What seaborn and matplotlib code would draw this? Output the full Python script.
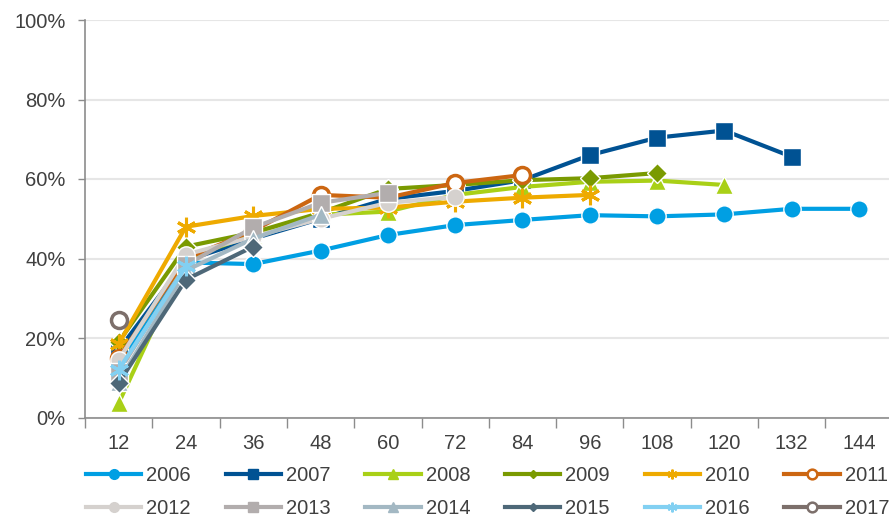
import pandas as pd
import seaborn as sns
import matplotlib.pyplot as plt
from matplotlib.lines import Line2D
from matplotlib.ticker import FixedLocator, FuncFormatter

# months since start (category axis)
months = [12, 24, 36, 48, 60, 72, 84, 96, 108, 120, 132, 144]
years = ['2006', '2007', '2008', '2009', '2010', '2011',
         '2012', '2013', '2014', '2015', '2016', '2017']

# values in percent, one list per year (shorter for later years)
v2006 = [13.5, 39.0, 38.6, 42.0, 45.9, 48.4, 49.7, 50.9, 50.6, 51.1, 52.5, 52.5]
v2007 = [17.0, 39.5, 45.0, 50.0, 55.0, 57.0, 59.7, 66.0, 70.4, 72.2, 65.6]
v2008 = [3.6, 40.0, 46.0, 51.0, 51.8, 56.0, 58.0, 59.3, 59.6, 58.5]
v2009 = [19.0, 43.0, 46.5, 51.5, 57.5, 58.5, 59.7, 60.2, 61.5]
v2010 = [18.5, 48.0, 50.7, 52.5, 52.8, 54.3, 55.3, 56.0]
v2011 = [15.0, 40.0, 47.0, 56.0, 55.3, 59.0, 61.0]
v2012 = [14.5, 41.0, 45.5, 50.0, 54.0, 55.5]
v2013 = [11.5, 38.4, 47.8, 54.0, 56.5]
v2014 = [9.0, 37.0, 45.0, 51.0]
v2015 = [8.7, 34.7, 43.0]
v2016 = [12.0, 38.0]
v2017 = [24.5]
values = [v2006, v2007, v2008, v2009, v2010, v2011,
          v2012, v2013, v2014, v2015, v2016, v2017]

colors = ['#009FE3', '#005293', '#A9D017', '#7A9A01', '#EEAA00', '#CC6611',
          '#D5D1CE', '#B2ADAD', '#A3B8C3', '#4E6878', '#82D0F2', '#7C6F6B']
asterisk = (6, 2, 0)
markers = ['o', 's', '^', 'D', asterisk, 'o', 'o', 's', '^', 'D', asterisk, 'o']
sizes = [12.5, 12.5, 12.5, 10.5, 14, 11.5, 12.5, 12.5, 12.5, 10.5, 14, 11.5]
open_marker = ['2011', '2017']

rows = []
for yr, vals in zip(years, values):
    for m, v in zip(months, vals):
        rows.append({'Månad': m, 'År': yr, 'Andel': v})
df = pd.DataFrame(rows)

plt.rcParams['font.family'] = ['Liberation Sans', 'DejaVu Sans']
text_col = '#404040'
axis_col = '#8C8C8C'
fs = 14.5

fig = plt.figure(figsize=(8.89, 5.19), dpi=100)
ax = fig.add_axes([85 / 889, (519 - 417.5) / 519, 804 / 889, 397.5 / 519])

for i, yr in enumerate(years):
    d = df[df['År'] == yr]
    if yr in open_marker:
        kw = dict(markerfacecolor='white', markeredgecolor=colors[i], markeredgewidth=2.5)
    elif markers[i] == asterisk:
        kw = dict(markeredgecolor=colors[i], markeredgewidth=2.2)
    else:
        kw = dict(markerfacecolor=colors[i], markeredgecolor='white', markeredgewidth=1)
    sns.lineplot(data=d, x='Månad', y='Andel', ax=ax, color=colors[i], linewidth=3,
                 marker=markers[i], markersize=sizes[i], legend=False, zorder=3 + i, **kw)

px_per_month = 67.3 / 12
ax.set_xlim(6, 6 + 804 / px_per_month)
ax.set_ylim(0, 100)
ax.set_xlabel('')
ax.set_ylabel('')

ax.set_xticks(months)
ax.set_xticklabels([str(m) for m in months])
ax.xaxis.set_minor_locator(FixedLocator([6 + 12 * k for k in range(13)]))
ax.tick_params(axis='x', which='major', length=0, pad=12, labelsize=fs, labelcolor=text_col)
ax.tick_params(axis='x', which='minor', length=7, width=1, color=axis_col)

ax.set_yticks(range(0, 101, 20))
ax.yaxis.set_major_formatter(FuncFormatter(lambda v, p: f'{int(v)}%'))
ax.tick_params(axis='y', length=5, width=1, color=axis_col, pad=9, labelsize=fs, labelcolor=text_col)

ax.grid(axis='y', color='#E6E6E6', linewidth=1.5, zorder=0)
ax.set_axisbelow(True)
for s in ['top', 'right']:
    ax.spines[s].set_visible(False)
for s in ['left', 'bottom']:
    ax.spines[s].set_color(axis_col)
    ax.spines[s].set_linewidth(1.2)

handles = []
for i, yr in enumerate(years):
    if yr in open_marker:
        kw = dict(markerfacecolor='white', markeredgecolor=colors[i], markeredgewidth=1.8)
    elif markers[i] == asterisk:
        kw = dict(markeredgecolor=colors[i], markeredgewidth=1.5)
    else:
        kw = dict(markerfacecolor=colors[i], markeredgecolor=colors[i])
    handles.append(Line2D([], [], color=colors[i], linewidth=3, marker=markers[i],
                          markersize=7 if markers[i] != 'D' else 4.5, **kw))

# legend fills column by column, so interleave the two rows
order = [j for c in range(6) for j in (c, c + 6)]
fig.legend([handles[j] for j in order], [years[j] for j in order],
           loc='upper left', bbox_to_anchor=(86 / 889, 1 - 466 / 519),
           ncol=6, frameon=False, fontsize=fs, labelcolor=text_col,
           handlelength=2.75, handletextpad=0.25, columnspacing=1.72,
           labelspacing=0.68, borderpad=0, borderaxespad=0)

fig.savefig('out.png', dpi=100)
